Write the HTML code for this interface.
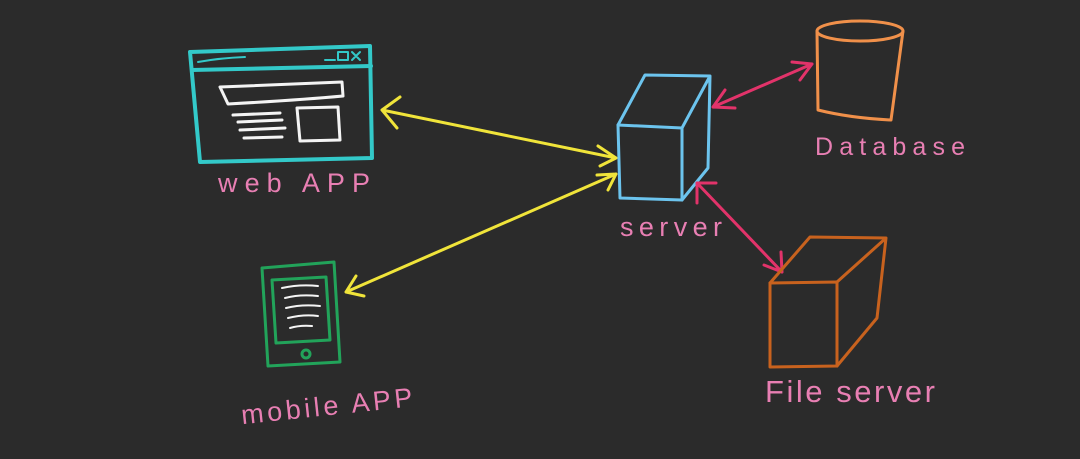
<!DOCTYPE html>
<html><head><style>
body{margin:0;width:1080px;height:459px;background:#2b2b2b;overflow:hidden}
svg{position:absolute;left:0;top:0}
text{font-family:"Liberation Sans",sans-serif;fill:#e87fb3}
</style></head><body>
<svg width="1080" height="459" viewBox="0 0 1080 459" fill="none" stroke-linecap="round" stroke-linejoin="round">
<!-- web app -->
<g stroke="#33c9c9" stroke-width="4">
<path d="M190 52 L370 46 L372 158 L200 162 Z"/>
<path d="M192 70 L371 66"/>
</g>
<g stroke="#33c9c9" stroke-width="2">
<path d="M198 62 Q220 58 245 57"/><path d="M325 60 h10 M338 52 h10 v8 h-10 z M352 52 l8 8 M360 52 l-8 8"/>
</g>
<g stroke="#f4f4f4" stroke-width="3">
<path d="M220 87 L342 82 L343 96 Q300 100 228 104 Z"/>
<path d="M297 108 L338 107 L340 140 L300 141 Z"/>
<path d="M233 115 L280 113 M238 122 L282 120 M240 130 L285 128 M244 138 L282 137"/>
</g>
<text x="218" y="192" font-size="27" textLength="152" lengthAdjust="spacing">web APP</text>
<!-- mobile -->
<g stroke="#22a35a" stroke-width="3">
<path d="M262 268 L334 262 L340 362 L268 366 Z"/>
<path d="M272 280 L326 277 L330 340 L276 343 Z"/>
<circle cx="306" cy="354" r="4"/>
</g>
<g stroke="#f4f4f4" stroke-width="2">
<path d="M282 288 Q300 284 318 286 M285 298 Q300 294 318 296 M286 308 Q302 304 320 306 M288 318 Q304 314 318 316 M290 328 Q300 325 312 326"/>
</g>
<text x="240" y="416" font-size="27" textLength="172" lengthAdjust="spacing" transform="rotate(-6 320 400)">mobile APP</text>
<!-- yellow arrows -->
<g stroke="#f0e43a" stroke-width="3">
<path d="M382 110 L616 158 M382 110 L400 97 M382 110 L397 128 M616 158 L598 146 M616 158 L600 166"/>
<path d="M346 292 L616 174 M346 292 L356 276 M346 292 L364 296 M616 174 L597 175 M616 174 L608 190"/>
</g>
<!-- server -->
<g stroke="#6cc4ee" stroke-width="3">
<path d="M618 125 L682 128 L682 200 L620 198 Z"/>
<path d="M618 125 L645 75 L710 76 L682 128 M710 76 L708 168 L682 200"/>
</g>
<text x="620" y="236" font-size="27" textLength="102" lengthAdjust="spacing">server</text>
<!-- pink arrows -->
<g stroke="#e2336a" stroke-width="3">
<path d="M713 107 L812 64 M713 107 L735 108 M713 107 L725 90 M812 64 L792 62 M812 64 L800 80"/>
<path d="M697 183 L782 272 M697 183 L716 183 M697 183 L697 203 M782 272 L764 265 M782 272 L781 252"/>
</g>
<!-- database -->
<g stroke="#f0904a" stroke-width="3">
<ellipse cx="860" cy="31" rx="43" ry="10"/>
<path d="M817 31 L818 110 Q850 118 891 120 L903 31"/>
</g>
<text x="815" y="155" font-size="25" textLength="150" lengthAdjust="spacing">Database</text>
<!-- file server -->
<g stroke="#c8621e" stroke-width="3">
<path d="M770 283 L837 282 L837 366 L770 367 Z"/>
<path d="M770 283 L810 237 L886 238 L837 282 M886 238 L877 318 L837 366"/>
</g>
<text x="765" y="402" font-size="31" textLength="170" lengthAdjust="spacing">File server</text>
</svg>
</body></html>
